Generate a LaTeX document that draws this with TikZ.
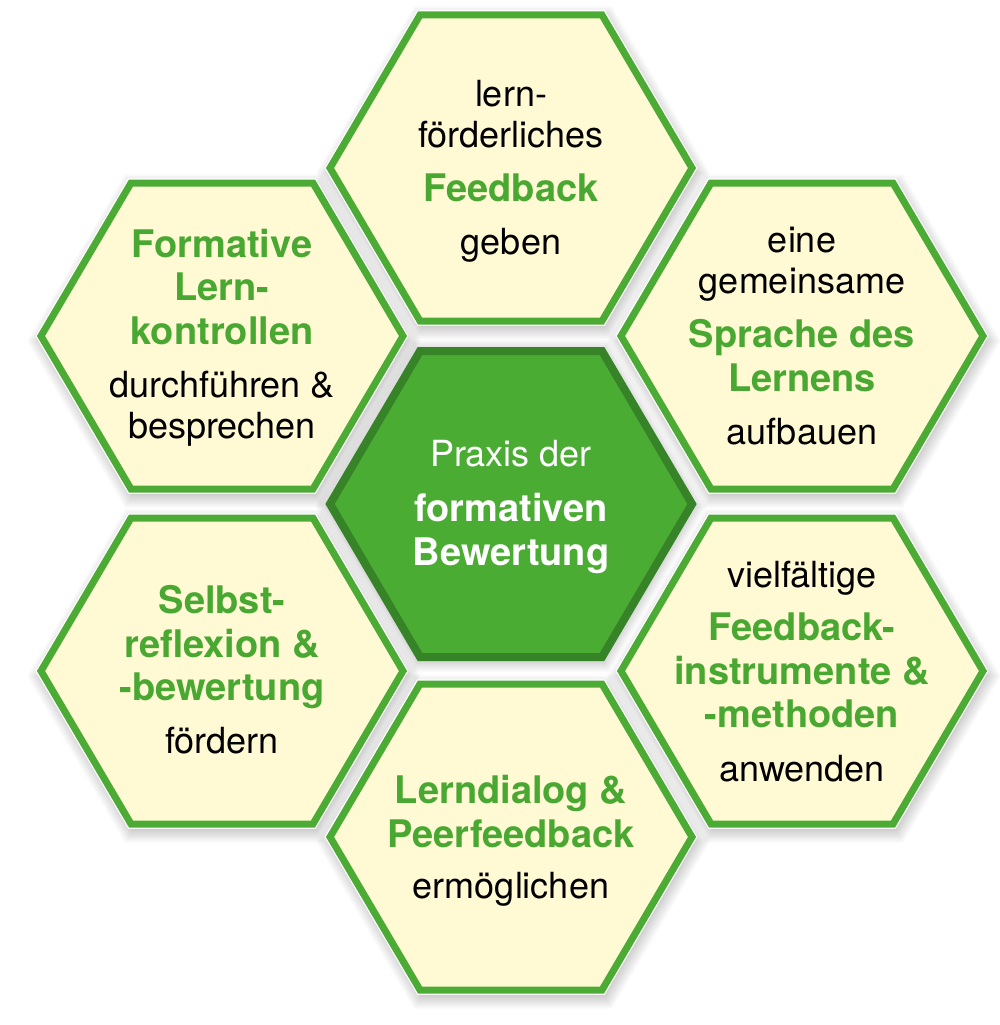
\documentclass[tikz,border=0pt]{standalone}
\usepackage{fontspec}
\setmainfont{TeX Gyre Heros}
\definecolor{hexfill}{RGB}{255,249,212}
\definecolor{hexgreen}{RGB}{76,171,52}
\definecolor{txtgreen}{RGB}{73,168,50}
\definecolor{corefill}{RGB}{74,172,50}
\definecolor{coreline}{RGB}{54,131,40}
\newcommand{\gb}[1]{{\fontsize{38}{41}\selectfont\bfseries\color{txtgreen}#1}}
\newcommand{\wb}[1]{{\fontsize{38}{41}\selectfont\bfseries\color{white}#1}}
\tikzset{
  hexp/.style={insert path={({-181-1.155*(#1)},0) -- ({-91-0.577*(#1)},{-153-(#1)}) -- ({91+0.577*(#1)},{-153-(#1)}) -- ({181+1.155*(#1)},0) -- ({91+0.577*(#1)},{153+(#1)}) -- ({-91-0.577*(#1)},{153+(#1)}) -- cycle}},
  shadowlayer/.style={fill=black, fill opacity=0.022},
  rimline/.style={draw=white, line width=9.5pt},
  cellhex/.style={fill=hexfill, draw=hexgreen, line width=7pt},
  corehex/.style={fill=corefill, draw=coreline, line width=8pt},
  hextext/.style={anchor=base, inner sep=0pt, align=center, font=\fontsize{36}{41}\selectfont, text=black}
}
\begin{document}
\begin{tikzpicture}[x=1pt, y=-1pt]
\useasboundingbox[fill=white] (0,0) rectangle (1000,1025);
\coordinate (C) at (511,504);
\coordinate (T) at (511,168);
\coordinate (B) at (511,837);
\coordinate (UL) at (222,336);
\coordinate (UR) at (802,336);
\coordinate (LL) at (222,671);
\coordinate (LR) at (802,671);
% soft shadows
\foreach \c in {T,UL,UR,LL,LR,B} {
  \foreach \d in {1,...,8} {
    \fill[shadowlayer, shift={(\c)}, shift={(2,5)}, hexp=\d*1.7];
  }
}
\foreach \d in {1,...,8} {
  \fill[shadowlayer, shift={(C)}, shift={(0,2)}, hexp=\d*1.6];
}
% hexagons
\foreach \c in {T,UL,UR,LL,LR,B} {
  \draw[rimline, shift={(\c)}, hexp=0];
  \filldraw[cellhex, shift={(\c)}, hexp=0];
}
\filldraw[corehex, shift={(C)}, hexp=0];
% texts
\node[hextext] (tT) at (511,106) {\begin{tabular}[t]{@{}c@{}}lern-\\förderliches\\[13pt]\gb{Feedback}\\[12pt]geben\end{tabular}};
\node[hextext] (tUL) at (222,257) {\begin{tabular}[t]{@{}c@{}}\gb{Formative}\\[2pt]\gb{Lern-}\\[3pt]\gb{kontrollen}\\[12pt]durchführen \&\\besprechen\end{tabular}};
\node[hextext] (tUR) at (802,252) {\begin{tabular}[t]{@{}c@{}}eine\\gemeinsame\\[13pt]\gb{Sprache des}\\[3pt]\gb{Lernens}\\[12pt]aufbauen\end{tabular}};
\node[hextext] (tLR) at (802,587) {\begin{tabular}[t]{@{}c@{}}vielfältige\\[12pt]\gb{Feedback-}\\[3pt]\gb{instrumente \&}\\[2pt]\gb{-methoden}\\[13pt]anwenden\end{tabular}};
\node[hextext] (tLL) at (222,613) {\begin{tabular}[t]{@{}c@{}}\gb{Selbst-}\\[3pt]\gb{reflexion \&}\\[2pt]\gb{-bewertung}\\[12pt]fördern\end{tabular}};
\node[hextext] (tB) at (511,803) {\begin{tabular}[t]{@{}c@{}}\gb{Lerndialog \&}\\[3pt]\gb{Peerfeedback}\\[10pt]ermöglichen\end{tabular}};
\node[hextext, text=white] (tC) at (511,466) {\begin{tabular}[t]{@{}c@{}}Praxis der\\[14pt]\wb{formativen}\\[3pt]\wb{Bewertung}\end{tabular}};
\end{tikzpicture}
\end{document}
